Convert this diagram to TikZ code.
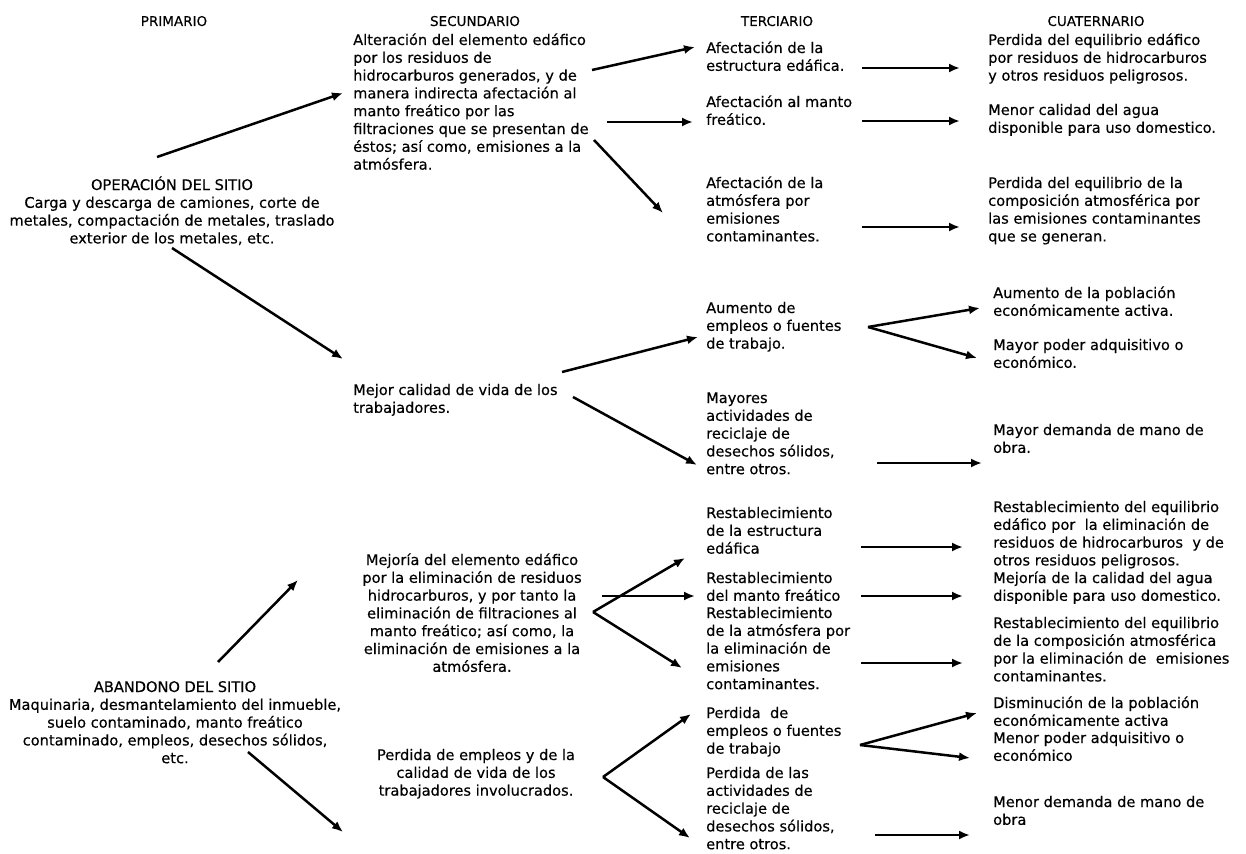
\documentclass[tikz,border=0pt]{standalone}
\usepackage{fontspec}
\setmainfont{DejaVu Sans}[FakeBold=0.35]
\usetikzlibrary{arrows.meta}
\begin{document}
\begin{tikzpicture}[x=1pt,y=-1pt,
  txt/.style={font=\fontsize{14.6}{17.8}\selectfont, inner sep=0pt, align=left, anchor=base west},
  ctxt/.style={font=\fontsize{14.6}{17.8}\selectfont, inner sep=0pt, align=center, anchor=base},
  hdr/.style={font=\fontsize{13.5}{17.8}\selectfont, inner sep=0pt, anchor=base},
  arr/.style={line width=2.5pt, -{Latex[length=11pt,width=9pt]}}]
\useasboundingbox[fill=white] (0,0) rectangle (1246,853);
% note: the base anchor of a multi-line node is the baseline of its last line

% headers
\node[hdr] (hP) at (174,26) {PRIMARIO};
\node[hdr] (hS) at (475,26) {SECUNDARIO};
\node[hdr] (hT) at (777,26) {TERCIARIO};
\node[hdr] (hC) at (1096,26) {CUATERNARIO};

% primary
\node[ctxt] (op) at (172,243.4) {OPERACIÓN DEL SITIO\\Carga y descarga de camiones, corte de\\metales, compactación de metales, traslado\\exterior de los metales, etc.};
\node[ctxt] (ab) at (175,763.2) {ABANDONO DEL SITIO\\Maquinaria, desmantelamiento del inmueble,\\suelo contaminado, manto freático\\contaminado, empleos, desechos sólidos,\\etc.};

% secondary
\node[txt] (s1) at (353,169.6) {Alteración del elemento edáfico\\por los residuos de\\hidrocarburos generados, y de\\manera indirecta afectación al\\manto freático por las\\filtraciones que se presentan de\\éstos; así como, emisiones a la\\atmósfera.};
\node[txt] (s2) at (353,412.8) {Mejor calidad de vida de los\\trabajadores.};
\node[ctxt] (s3) at (472,671.8) {Mejoría del elemento edáfico\\por la eliminación de residuos\\hidrocarburos, y por tanto la\\eliminación de filtraciones al\\manto freático; así como, la\\eliminación de emisiones a la\\atmósfera.};
\node[ctxt] (s4) at (476,795.6) {Perdida de empleos y de la\\calidad de vida de los\\trabajadores involucrados.};

% tertiary
\node[txt] (t1) at (706,70.8) {Afectación de la\\estructura edáfica.};
\node[txt] (t2) at (706,124.8) {Afectación al manto\\freático.};
\node[txt] (t3) at (706,241.4) {Afectación de la\\atmósfera por\\emisiones\\contaminantes.};
\node[txt] (t4) at (706,348.6) {Aumento de\\empleos o fuentes\\de trabajo.};
\node[txt] (t5) at (706,474.2) {Mayores\\actividades de\\reciclaje de\\desechos sólidos,\\entre otros.};
\node[txt] (t6) at (706,553.6) {Restablecimiento\\de la estructura\\edáfica};
\node[txt] (t7) at (706,600.8) {Restablecimiento\\del manto freático};
\node[txt] (t8) at (706,689.2) {Restablecimiento\\de la atmósfera por\\la eliminación de\\emisiones\\contaminantes.};
\node[txt] (t9) at (706,753.6) {Perdida \ de\\empleos o fuentes\\de trabajo};
\node[txt] (t10) at (706,849.2) {Perdida de las\\actividades de\\reciclaje de\\desechos sólidos,\\entre otros.};

% quaternary
\node[txt] (c1) at (988,80.6) {Perdida del equilibrio edáfico\\por residuos de hidrocarburos\\y otros residuos peligrosos.};
\node[txt] (c2) at (988,132.8) {Menor calidad del agua\\disponible para uso domestico.};
\node[txt] (c3) at (988,241.4) {Perdida del equilibrio de la\\composición atmosférica por\\las emisiones contaminantes\\que se generan.};
\node[txt] (c4) at (993,315.8) {Aumento de la población\\económicamente activa.};
\node[txt] (c5) at (993,367.8) {Mayor poder adquisitivo o\\económico.};
\node[txt] (c6) at (993,452.8) {Mayor demanda de mano de\\obra.};
\node[txt] (c7) at (993,565.4) {Restablecimiento del equilibrio\\edáfico por \ la eliminación de\\residuos de hidrocarburos \ y de\\otros residuos peligrosos.};
\node[txt] (c8) at (993,600.8) {Mejoría de la calidad del agua\\disponible para uso domestico.};
\node[txt] (c9) at (993,681.4) {Restablecimiento del equilibrio\\de la composición atmosférica\\por la eliminación de \ emisiones\\contaminantes.};
\node[txt] (c10) at (993,725.8) {Disminución de la población\\económicamente activa};
\node[txt] (c11) at (993,760.8) {Menor poder adquisitivo o\\económico};
\node[txt] (c12) at (993,824.8) {Menor demanda de mano de\\obra};

% arrow end points
\coordinate (p1) at (157,157);  \coordinate (q1) at (343,93);
\coordinate (p2) at (172,248);  \coordinate (q2) at (343,359);
\coordinate (p3) at (592,70);   \coordinate (q3) at (695,47);
\coordinate (p4) at (607,122);  \coordinate (q4) at (693,122);
\coordinate (p5) at (594,140);  \coordinate (q5) at (663,213);
\coordinate (p6) at (862,68);   \coordinate (q6) at (960,68);
\coordinate (p7) at (862,121);  \coordinate (q7) at (960,121);
\coordinate (p8) at (862,227);  \coordinate (q8) at (960,227);
\coordinate (p9) at (562,372);  \coordinate (q9) at (698,337);
\coordinate (p10) at (573,397); \coordinate (q10) at (697,465);
\coordinate (p11) at (868,327); \coordinate (q11) at (980,308);
\coordinate (q12) at (977,358);
\coordinate (p13) at (877,463); \coordinate (q13) at (982,463);
\coordinate (p14) at (218,662); \coordinate (q14) at (298,580);
\coordinate (p15) at (248,752); \coordinate (q15) at (343,832);
\coordinate (p16) at (593,612); \coordinate (q16) at (685,558);
\coordinate (p17) at (602,596); \coordinate (q17) at (695,596);
\coordinate (q18) at (682,668);
\coordinate (p19) at (603,777); \coordinate (q19) at (691,714);
\coordinate (q20) at (690,838);
\coordinate (p21) at (861,547); \coordinate (q21) at (963,547);
\coordinate (p22) at (861,596); \coordinate (q22) at (963,596);
\coordinate (p23) at (861,663); \coordinate (q23) at (963,663);
\coordinate (p24) at (860,745); \coordinate (q24) at (977,713);
\coordinate (q25) at (970,758);
\coordinate (p26) at (875,835); \coordinate (q26) at (970,835);

\draw[arr] (p1) -- (q1);
\draw[arr] (p2) -- (q2);
\draw[arr] (p3) -- (q3);
\draw[arr] (p4) -- (q4);
\draw[arr] (p5) -- (q5);
\draw[arr] (p6) -- (q6);
\draw[arr] (p7) -- (q7);
\draw[arr] (p8) -- (q8);
\draw[arr] (p9) -- (q9);
\draw[arr] (p10) -- (q10);
\draw[arr] (p11) -- (q11);
\draw[arr] (p11) -- (q12);
\draw[arr] (p13) -- (q13);
\draw[arr] (p14) -- (q14);
\draw[arr] (p15) -- (q15);
\draw[arr] (p16) -- (q16);
\draw[arr] (p17) -- (q17);
\draw[arr] (p16) -- (q18);
\draw[arr] (p19) -- (q19);
\draw[arr] (p19) -- (q20);
\draw[arr] (p21) -- (q21);
\draw[arr] (p22) -- (q22);
\draw[arr] (p23) -- (q23);
\draw[arr] (p24) -- (q24);
\draw[arr] (p24) -- (q25);
\draw[arr] (p26) -- (q26);
\end{tikzpicture}
\end{document}
